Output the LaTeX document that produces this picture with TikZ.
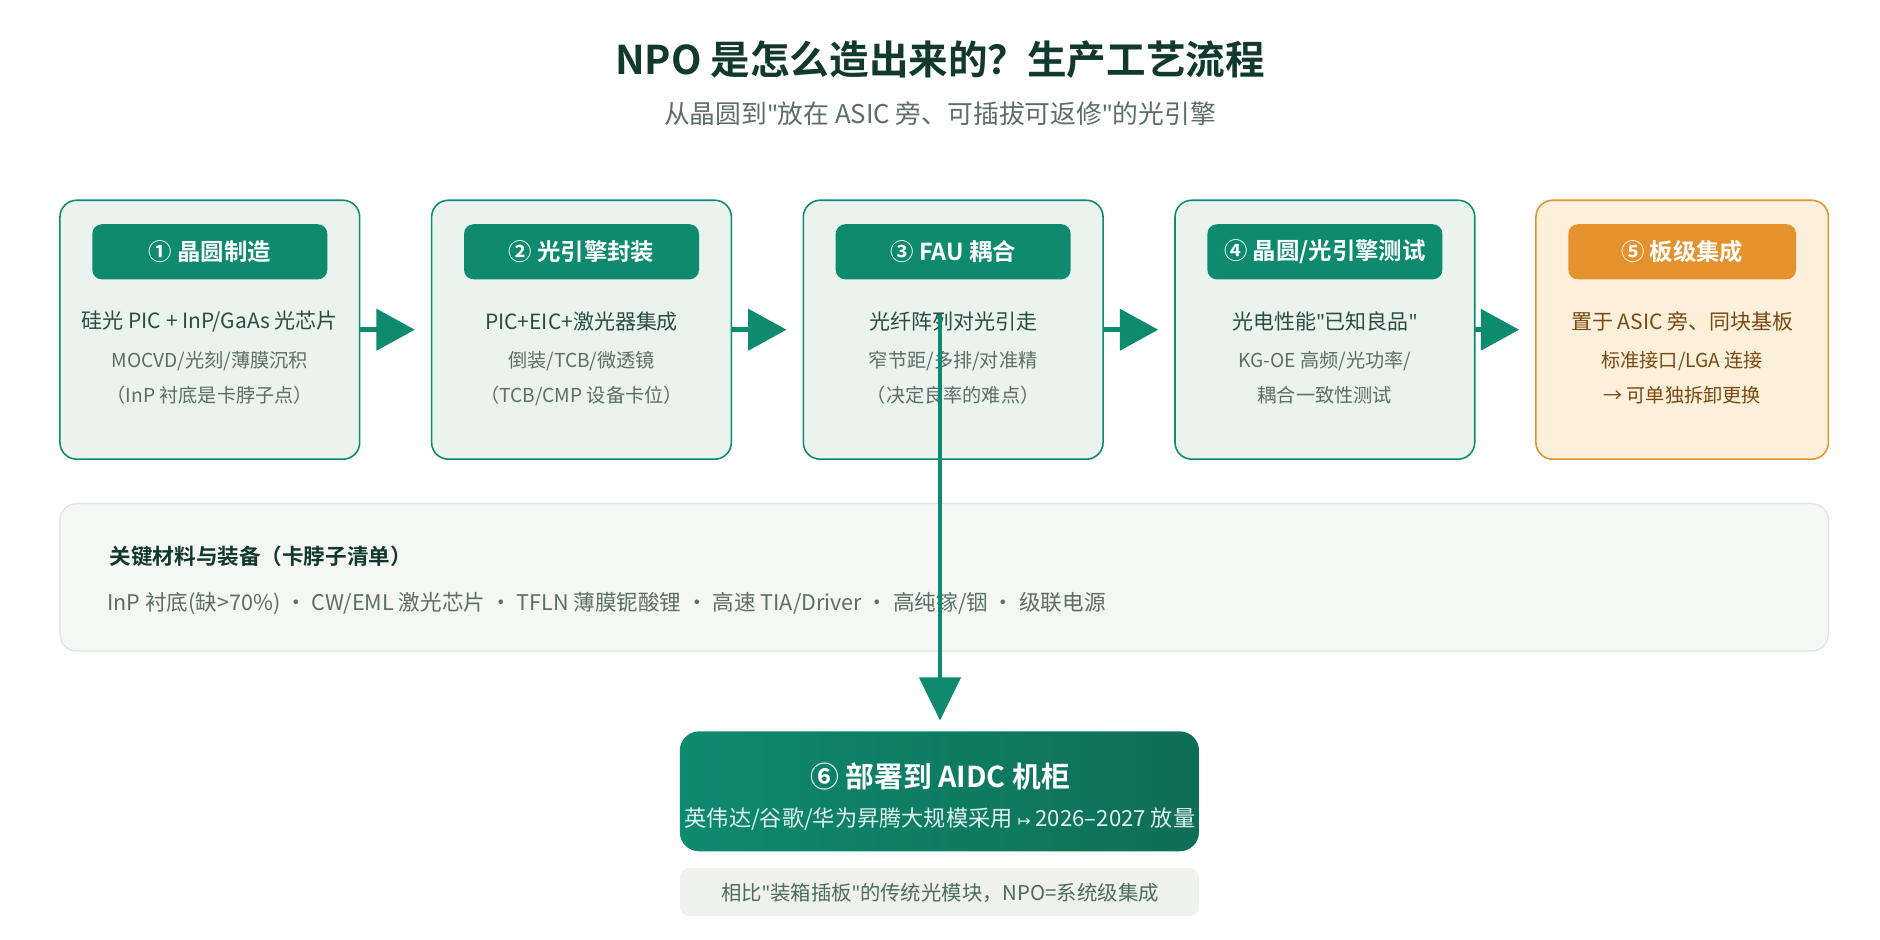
\documentclass[tikz,border=0pt]{standalone}
\usepackage{fontspec}
\setmainfont{Noto Sans CJK SC}
\newfontfamily\cjkb{Noto Sans CJK SC Bold}
\newfontfamily\dv{DejaVu Sans}
\newfontfamily\ns{Noto Sans}
\newcommand{\q}{{\ns\symbol{34}}}
\usetikzlibrary{arrows.meta,shadings}
\definecolor{tg}{HTML}{0E8A6F}
\definecolor{tgd}{HTML}{0F6E58}
\definecolor{bfill}{HTML}{EAF3EE}
\definecolor{dark}{HTML}{12392D}
\definecolor{gtx}{HTML}{5C6E66}
\definecolor{ofill}{HTML}{FDF0DB}
\definecolor{obrd}{HTML}{E3922E}
\definecolor{otx}{HTML}{7A4812}
\definecolor{pfill}{HTML}{F4F7F3}
\definecolor{pbrd}{HTML}{DDE5DF}
\definecolor{nfill}{HTML}{EEF1EC}
\tikzset{
 x=1pt,y=-1pt,
 stepbox/.style={draw=tg,line width=1.3pt,fill=bfill,rounded corners=14pt},
 badge/.style={fill=tg,rounded corners=8pt,text=white,font=\cjkb\fontsize{19.5}{22}\selectfont,minimum width=196pt,minimum height=46pt,inner sep=0},
 main/.style={text=dark!90,font=\fontsize{17.5}{20}\selectfont},
 sub/.style={text=gtx,font=\fontsize{16}{18}\selectfont},
 harr/.style={tg,line width=4pt,-{Triangle[length=32pt,width=34pt]}},
}
\begin{document}
\begin{tikzpicture}
\useasboundingbox[fill=white] (0,0) rectangle (1568,784);
\node[text=dark,font=\cjkb\fontsize{33}{40}\selectfont] (title) at (784,50) {NPO 是怎么造出来的？生产工艺流程};
\node[text=gtx,font=\fontsize{21.5}{26}\selectfont] (subt) at (784,95) {从晶圆到\q 放在 ASIC 旁、可插拔可返修\q 的光引擎};
% steps
\foreach \x in {50,360,670,980}{
  \draw[stepbox] (\x,167) rectangle (\x+250,383);
}
\draw[stepbox,draw=obrd,fill=ofill] (1281,167) rectangle (1525,383);
\node[badge] (b1) at (175,210) {① 晶圆制造};
\node[badge] (b2) at (485,210) {② 光引擎封装};
\node[badge] (b3) at (795,210) {③ FAU 耦合};
\node[badge] (b4) at (1105,210) {④ 晶圆/光引擎测试};
\node[badge,fill=obrd,minimum width=190pt] (b5) at (1403,210) {⑤ 板级集成};
\node[main] (m1) at (175,268) {硅光 PIC + InP/GaAs 光芯片};
\node[sub] (a1) at (175,301) {MOCVD/光刻/薄膜沉积};
\node[sub] (c1) at (175,330) {（InP 衬底是卡脖子点）};
\node[main] (m2) at (485,268) {PIC+EIC+激光器集成};
\node[sub] (a2) at (485,301) {倒装/TCB/微透镜};
\node[sub] (c2) at (485,330) {（TCB/CMP 设备卡位）};
\node[main] (m3) at (795,268) {光纤阵列对光引走};
\node[sub] (a3) at (795,301) {窄节距/多排/对准精};
\node[sub] (c3) at (795,330) {（决定良率的难点）};
\node[main] (m4) at (1105,268) {光电性能\q 已知良品\q};
\node[sub] (a4) at (1105,301) {KG-OE 高频/光功率/};
\node[sub] (c4) at (1105,330) {耦合一致性测试};
\node[main,text=otx] (m5) at (1403,268) {置于 ASIC 旁、同块基板};
\node[sub,text=otx] (a5) at (1403,301) {标准接口/LGA 连接};
\node[sub,text=otx] (c5) at (1403,330) {→ 可单独拆卸更换};
% horizontal arrows
\coordinate (e1) at (300,275); \coordinate (f1) at (346,275);
\coordinate (e2) at (610,275); \coordinate (f2) at (656,275);
\coordinate (e3) at (920,275); \coordinate (f3) at (966,275);
\coordinate (e4) at (1230,275); \coordinate (f4) at (1267,275);
\foreach \i in {1,2,3,4}{\draw[harr] (e\i) -- (f\i);}
% panel
\draw[fill=pfill,draw=pbrd,line width=1pt,rounded corners=14pt] (50,420) rectangle (1525,543);
\node[anchor=west,text=dark,font=\cjkb\fontsize{18}{20}\selectfont] (pt) at (88,464) {关键材料与装备（卡脖子清单）};
\node[anchor=west,text=gtx,font=\fontsize{18}{20}\selectfont] (pl) at (86,503) {InP 衬底(缺>70\%) · CW/EML 激光芯片 · TFLN 薄膜铌酸锂 · 高速 TIA/Driver · 高纯镓/铟 · 级联电源};
% box 6
\shade[left color=tg,right color=tgd,rounded corners=16pt] (567,610) rectangle (1000,710);
\node[text=white,font=\cjkb\fontsize{24}{28}\selectfont] (t6) at (784,648) {⑥ 部署到 AIDC 机柜};
\node[text=white!88!tg,font=\fontsize{18.5}{20}\selectfont] (s6) at (784,683) {英伟达/谷歌/华为昇腾大规模采用 {\dv\fontsize{13}{14}\selectfont ↦} 2026–2027 放量};
\coordinate (d6) at (784,601);
\coordinate (v0) at (784,262);
\draw[tg,line width=4pt,-{Triangle[length=36pt,width=34pt]}] (v0) -- (d6);
% note
\fill[nfill,rounded corners=8pt] (567,724) rectangle (1000,764);
\node[text=dark!75,font=\fontsize{17}{19}\selectfont] (note) at (784,745) {相比\q 装箱插板\q 的传统光模块，NPO=系统级集成};
\end{tikzpicture}
\end{document}
